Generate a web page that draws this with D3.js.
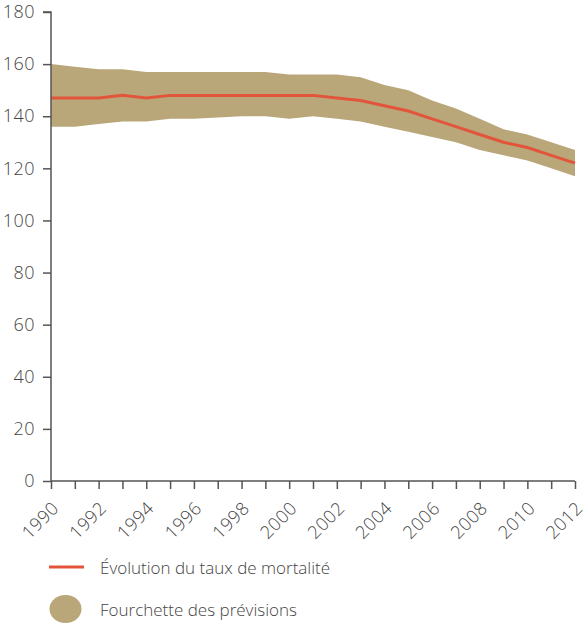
<!DOCTYPE html>
<html>
<head>
<meta charset="utf-8">
<script src="https://cdn.jsdelivr.net/npm/d3@7"></script>
<style>
  body { margin: 0; background: #fff; }
  svg text { font-family: "Open Sans", sans-serif; font-weight: 300; fill: #444; }
</style>
</head>
<body>
<div class="chartHolder"></div>
<script>
var years = [1990, 1991, 1992, 1993, 1994, 1995, 1996, 1997, 1998, 1999, 2000, 2001,
             2002, 2003, 2004, 2005, 2006, 2007, 2008, 2009, 2010, 2011, 2012];
var taux = [147, 147, 147, 148, 147, 148, 148, 148, 148, 148, 148, 148,
            147, 146, 144, 142, 139, 136, 133, 130, 128, 125, 122];
var hautFourchette = [160, 159, 158, 158, 157, 157, 157, 157, 157, 157, 156, 156,
                      156, 155, 152, 150, 146, 143, 139, 135, 133, 130, 127];
var basFourchette = [136, 136, 137, 138, 138, 139, 139, 139.5, 140, 140, 139, 140,
                     139, 138, 136, 134, 132, 130, 127, 125, 123, 120, 117];
var yTicks = [0, 20, 40, 60, 80, 100, 120, 140, 160, 180];
var legendLabels = ["Évolution du taux de mortalité", "Fourchette des prévisions"];

var svgW = 586, svgH = 624;
var margin = { left: 51, right: 11, top: 12, bottom: 143 };
var w = svgW - margin.left - margin.right,
    h = svgH - margin.top - margin.bottom;

var lineColor = "#e2553b", bandColor = "#b9a77a", axisColor = "#555";

var svg = d3.select(".chartHolder").append("svg").attr("width", svgW).attr("height", svgH);

var xScale = d3.scaleLinear().domain([1990, 2012]).range([0, w]);
var yScale = d3.scaleLinear().domain([0, 180]).range([h, 0]);

var g = svg.append("g").attr("transform", "translate(" + margin.left + "," + margin.top + ")");

// band
var data = years.map(function (y, i) {
  return { year: y, val: taux[i], hi: hautFourchette[i], lo: basFourchette[i] };
});

var area = d3.area()
  .x(function (d) { return xScale(d.year); })
  .y0(function (d) { return yScale(d.lo); })
  .y1(function (d) { return yScale(d.hi); });

g.append("path").datum(data).attr("d", area).attr("fill", bandColor);

var line = d3.line()
  .x(function (d) { return xScale(d.year); })
  .y(function (d) { return yScale(d.val); });

g.append("path").datum(data).attr("d", line)
  .attr("fill", "none").attr("stroke", lineColor).attr("stroke-width", 3);

// axes
var yAxis = d3.axisLeft(yScale).tickValues(yTicks).tickSize(8).tickPadding(8);
var yG = g.append("g").attr("id", "y-axis").call(yAxis);
yG.select(".domain").attr("d", "M0," + h + "V0H-8").attr("stroke", axisColor).attr("stroke-width", 1.5);
yG.selectAll(".tick line").attr("stroke", axisColor).attr("stroke-width", 1.5);
yG.selectAll(".tick text").style("font-size", "18px").style("letter-spacing", "0.5px").attr("fill", "#444");

var xAxis = d3.axisBottom(xScale).tickValues(years).tickSize(8).tickFormat(function (d) {
  return d % 2 === 0 ? d : "";
});
var xG = g.append("g").attr("id", "x-axis").attr("transform", "translate(0," + h + ")").call(xAxis);
xG.select(".domain").attr("d", "M0,0H" + w).attr("stroke", axisColor).attr("stroke-width", 1.5);
xG.selectAll(".tick line").attr("stroke", axisColor).attr("stroke-width", 1.5);
xG.selectAll(".tick text")
  .style("font-size", "18px").style("letter-spacing", "0.5px").attr("fill", "#444")
  .attr("text-anchor", "end")
  .attr("x", 0).attr("y", 0).attr("dy", "0.35em")
  .attr("transform", "translate(4,24) rotate(-45)");

// legend
var leg = svg.append("g");
leg.append("line").attr("x1", 49).attr("x2", 84).attr("y1", 567).attr("y2", 567)
  .attr("stroke", lineColor).attr("stroke-width", 3);
leg.append("text").attr("x", 100).attr("y", 574).style("font-size", "17px").attr("fill", "#333").text(legendLabels[0]);
leg.append("ellipse").attr("cx", 65.5).attr("cy", 609).attr("rx", 16).attr("ry", 14).attr("fill", bandColor);
leg.append("text").attr("x", 100).attr("y", 616).style("font-size", "17px").attr("fill", "#333").text(legendLabels[1]);
</script>
</body>
</html>
